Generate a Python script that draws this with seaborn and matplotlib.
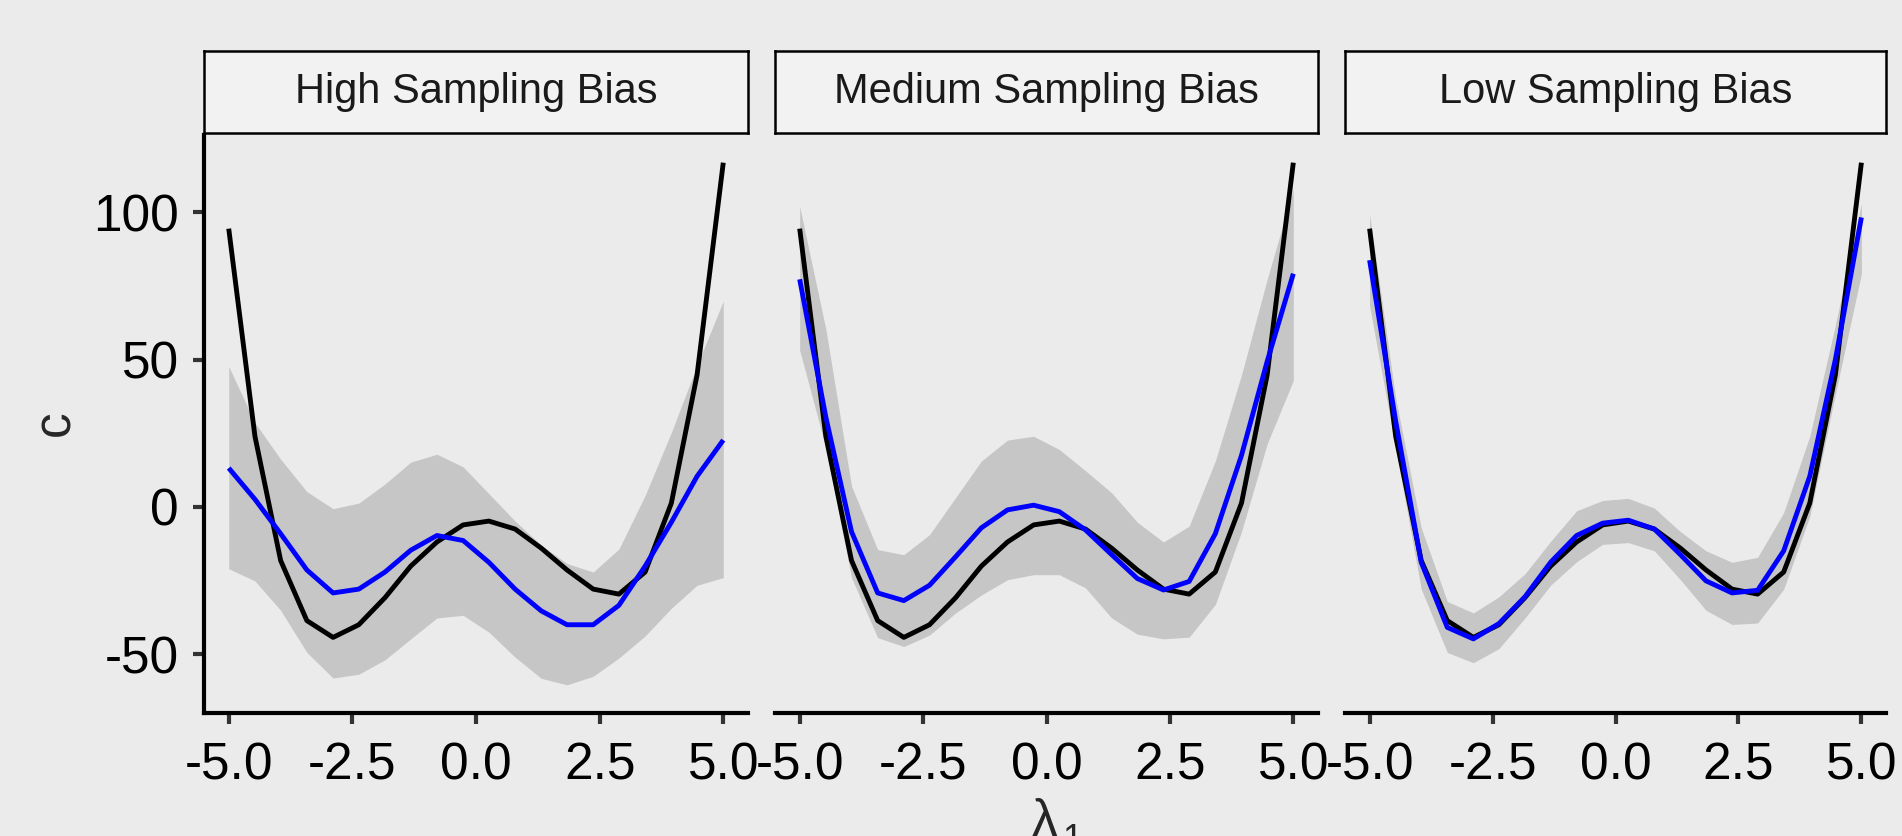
#!/usr/bin/env python3
# -*- coding: utf-8 -*-
"""
采样偏差对比图：三种采样偏差下的估计曲线 (蓝)、真值曲线 (黑) 与置信带 (灰)
"""

import numpy as np
import pandas as pd
import matplotlib
matplotlib.use('Agg')
import matplotlib.pyplot as plt
import seaborn as sns

# 数据
lambda1 = [-5.0, -4.47, -3.95, -3.42, -2.89, -2.37, -1.84, -1.32, -0.79, -0.26,
           0.26, 0.79, 1.32, 1.84, 2.37, 2.89, 3.42, 3.95, 4.47, 5.0]

panels = ['High Sampling Bias', 'Medium Sampling Bias', 'Low Sampling Bias']

true_c = [94.5, 24.0, -18.2, -38.6, -44.3, -40.0, -30.8, -20.1, -11.9, -6.1,
          -4.8, -7.5, -14.0, -21.4, -27.9, -29.6, -22.1, 1.3, 44.8, 116.9]

est_high = [13.2, 2.6, -9.1, -21.4, -29.2, -27.9, -22.1, -14.7, -9.7, -11.4,
            -18.8, -27.9, -35.3, -40.0, -40.0, -33.4, -20.1, -5.2, 10.4, 22.7]
upper_high = [47.7, 28.6, 16.2, 5.2, -0.6, 1.3, 7.8, 15.2, 17.9, 13.6,
              4.5, -4.8, -13.0, -19.2, -22.1, -14.3, 3.9, 25.3, 48.1, 69.9]
lower_high = [-21.0, -25.1, -35.1, -49.4, -58.1, -56.8, -51.9, -44.8, -37.7, -36.8,
              -42.5, -51.0, -58.2, -60.4, -57.5, -51.3, -43.8, -34.4, -26.6, -24.0]

est_medium = [77.3, 30.5, -8.4, -29.2, -31.8, -26.6, -16.9, -7.1, -1.0, 0.6,
              -1.6, -7.8, -16.2, -24.3, -28.2, -25.3, -9.1, 17.5, 49.4, 79.2]
upper_medium = [102.0, 60.4, 7.1, -14.5, -16.2, -9.4, 3.2, 15.6, 22.7, 24.0,
                19.5, 12.3, 4.8, -5.2, -11.9, -6.5, 15.6, 44.8, 77.3, 108.0]
lower_medium = [53.2, 20.1, -24.0, -44.4, -47.4, -43.5, -36.0, -29.9, -24.7, -23.0,
                -23.0, -27.5, -37.7, -43.2, -44.8, -44.2, -33.1, -8.4, 21.4, 42.9]

est_low = [83.8, 29.2, -18.8, -40.9, -44.8, -39.6, -30.5, -18.8, -9.7, -5.5,
           -4.5, -7.5, -16.2, -25.1, -29.2, -28.3, -14.9, 10.4, 50.0, 98.3]
upper_low = [99.4, 37.0, -7.1, -32.1, -36.0, -30.5, -22.7, -11.7, -1.3, 2.2,
             2.9, -0.4, -8.4, -14.9, -18.8, -17.1, -1.9, 24.0, 61.7, 103.0]
lower_low = [68.2, 20.1, -27.9, -49.4, -52.9, -48.1, -37.7, -26.6, -18.6, -12.7,
             -12.1, -14.9, -24.7, -35.1, -39.9, -39.4, -27.9, -3.2, 38.3, 79.2]

x_ticks = [-5.0, -2.5, 0.0, 2.5, 5.0]
x_tick_labels = ['-5.0', '-2.5', '0.0', '2.5', '5.0']
y_ticks = [-50, 0, 50, 100]
y_tick_labels = ['-50', '0', '50', '100']

# 长表
frames = []
for name, est, up, lo in zip(panels,
                             [est_high, est_medium, est_low],
                             [upper_high, upper_medium, upper_low],
                             [lower_high, lower_medium, lower_low]):
    frames.append(pd.DataFrame({'panel': name, 'lambda1': lambda1, 'true': true_c,
                                'est': est, 'upper': up, 'lower': lo}))
df = pd.concat(frames, ignore_index=True)

# 主题
BG = '#EBEBEB'
sns.set_theme(style='white', rc={'figure.facecolor': BG, 'axes.facecolor': BG,
                                 'lines.linewidth': 3.5})
plt.rcParams['font.family'] = ['Liberation Sans', 'DejaVu Sans']
plt.rcParams['axes.unicode_minus'] = False

W, H = 1902, 836
fig = plt.figure(figsize=(W / 100, H / 100), dpi=100)
fig.patch.set_facecolor(BG)

# 面板像素位置
panel_x = [(204, 748), (775, 1318), (1345, 1886)]
panel_top, panel_bottom = 135, 712.5
strip_top, strip_bottom = 51, 133

tick_fs = 37
strip_fs = 30
line_w = 3.5
spine_w = 3.0

for i, (name, (x0, x1)) in enumerate(zip(panels, panel_x)):
    ax = fig.add_axes([x0 / W, 1 - panel_bottom / H, (x1 - x0) / W, (panel_bottom - panel_top) / H])
    ax.set_facecolor(BG)
    sub = df[df['panel'] == name]

    ax.fill_between(sub['lambda1'], sub['lower'], sub['upper'], color='#C6C6C6', lw=0, zorder=1)
    sns.lineplot(data=sub, x='lambda1', y='true', ax=ax, color='black',
                 errorbar=None, zorder=2)
    sns.lineplot(data=sub, x='lambda1', y='est', ax=ax, color='#0000FF',
                 errorbar=None, zorder=3)
    # 线宽强制设定
    for ln in ax.lines:
        ln.set_linewidth(line_w)
        ln.set_solid_joinstyle('round')
        ln.set_solid_capstyle('butt')

    ax.set_xlim(-5.5, 5.5)
    ax.set_ylim(-69.8, 126.3)
    ax.set_xlabel('')
    ax.set_ylabel('')
    ax.set_xticks(x_ticks)
    ax.set_xticklabels(x_tick_labels, fontsize=tick_fs)

    for side in ['top', 'right']:
        ax.spines[side].set_visible(False)
    ax.spines['bottom'].set_color('black')
    ax.spines['bottom'].set_linewidth(spine_w)

    ax.tick_params(axis='x', length=8, width=3.0, color='#333333', pad=13,
                   labelcolor='black', bottom=True)
    if i == 0:
        ax.set_yticks(y_ticks)
        ax.set_yticklabels(y_tick_labels, fontsize=tick_fs)
        ax.tick_params(axis='y', length=8, width=3.0, color='#333333', pad=10,
                       labelcolor='black', left=True)
        ax.spines['left'].set_color('black')
        ax.spines['left'].set_linewidth(spine_w)
    else:
        ax.set_yticks([])
        ax.spines['left'].set_visible(False)

    # 分面标题条
    sax = fig.add_axes([x0 / W, 1 - strip_bottom / H, (x1 - x0) / W, (strip_bottom - strip_top) / H])
    sax.set_facecolor('#F2F2F2')
    sax.set_xticks([])
    sax.set_yticks([])
    for sp in sax.spines.values():
        sp.set_visible(True)
        sp.set_color('black')
        sp.set_linewidth(1.8)
    sax.text(0.5, 0.5, name, ha='center', va='center', fontsize=strip_fs,
             color='#1A1A1A', transform=sax.transAxes)

# 轴标题
fig.text(56 / W, 1 - 423 / H, 'c', rotation=90, ha='center', va='center', fontsize=tick_fs)
fig.text(1045 / W, (H - 836) / H, 'λ', ha='center', va='baseline', fontsize=tick_fs)
fig.text(1062 / W, (H - 850) / H, '1', ha='left', va='baseline', fontsize=26)

fig.savefig('out.png', dpi=100, facecolor=BG)
